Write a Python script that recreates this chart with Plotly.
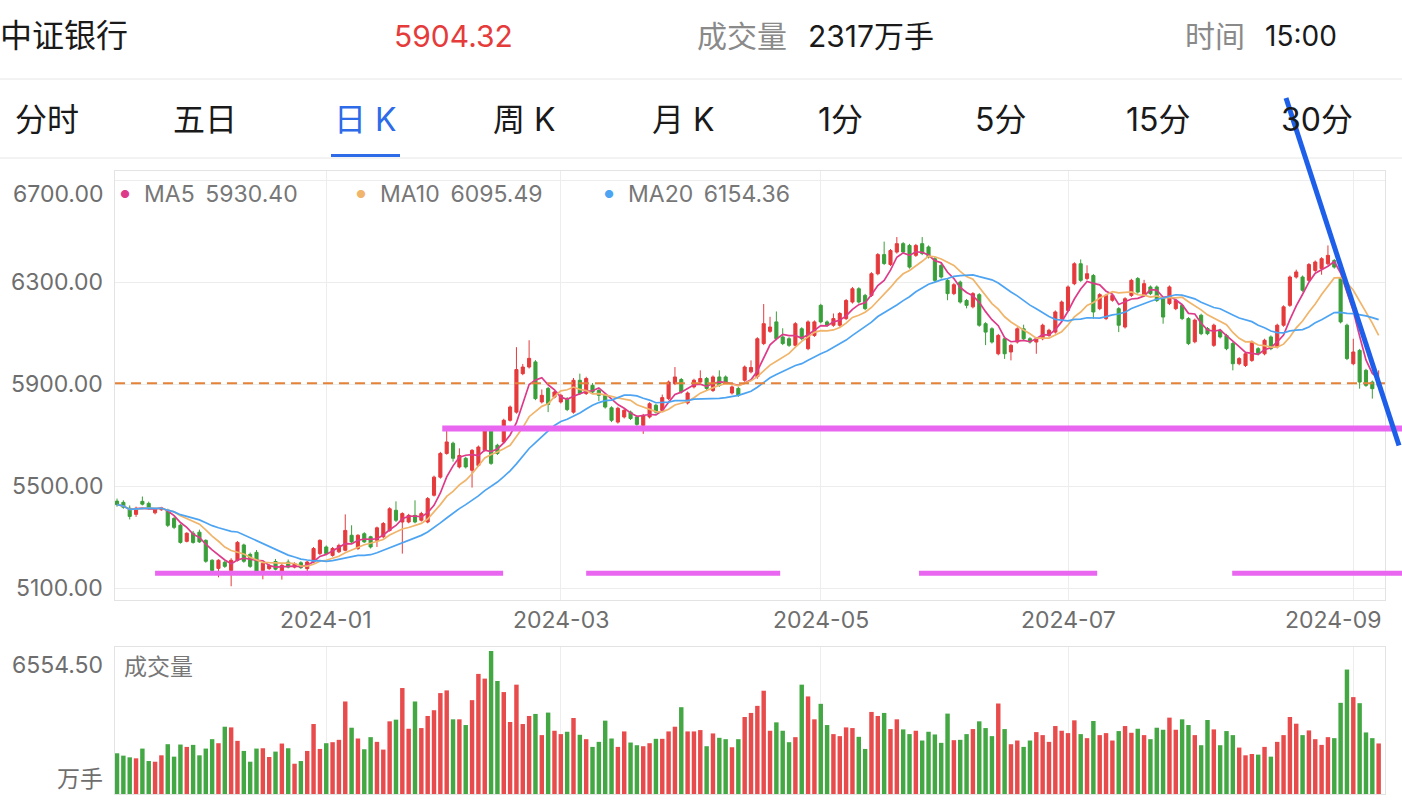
import pandas as pd
import plotly.graph_objects as go

W, H = 1402, 806

# ---------------- data ----------------
holidays = ['2024-01-01', '2024-02-09', '2024-02-12', '2024-02-13', '2024-02-14',
            '2024-02-15', '2024-02-16', '2024-04-04', '2024-04-05', '2024-05-01',
            '2024-05-02', '2024-05-03', '2024-06-10']
dates = [d.strftime('%Y-%m-%d') for d in pd.bdate_range('2023-11-15', '2024-09-06')
         if d.strftime('%Y-%m-%d') not in holidays]

open_ = [5442, 5437, 5414, 5390, 5441, 5433, 5396, 5408, 5406, 5374,
         5347, 5284, 5316, 5320, 5288, 5210, 5178, 5202, 5170, 5210,
         5270, 5233, 5241, 5170, 5177, 5205, 5164, 5203, 5183, 5200,
         5177, 5203, 5236, 5262, 5229, 5243, 5249, 5308, 5256, 5314,
         5302, 5288, 5302, 5327, 5406, 5360, 5360, 5386, 5367, 5360,
         5465, 5536, 5629, 5669, 5576, 5610, 5563, 5582, 5641, 5719,
         5661, 5674, 5759, 5791, 5942, 5968, 5988, 5831, 5884, 5850,
         5831, 5844, 5791, 5916, 5864, 5896, 5876, 5857, 5808, 5752,
         5772, 5791, 5772, 5739, 5772, 5818, 5798, 5844, 5903, 5919,
         5827, 5890, 5909, 5923, 5876, 5929, 5929, 5866, 5884, 5916,
         5949, 5930, 6060, 6108, 6145, 6086, 6079, 6053, 6118, 6040,
         6092, 6210, 6145, 6132, 6132, 6158, 6223, 6275, 6249, 6249,
         6334, 6409, 6370, 6419, 6452, 6445, 6406, 6452, 6439, 6393,
         6367, 6308, 6256, 6301, 6229, 6204, 6252, 6138, 6118, 6020,
         6079, 6027, 6066, 6118, 6079, 6066, 6079, 6092, 6105, 6158,
         6190, 6295, 6373, 6315, 6327, 6197, 6158, 6230, 6197, 6125,
         6249, 6315, 6249, 6282, 6282, 6236, 6217, 6197, 6210, 6158,
         6067, 6171, 6119, 6053, 6112, 6092, 6060, 5981, 5974, 5994,
         6040, 6020, 6086, 6047, 6132, 6210, 6321, 6321, 6308, 6347,
         6354, 6373, 6386, 6315, 6132, 5981, 6033, 5955, 5909, 5895]

high = [5452, 5445, 5425, 5420, 5460, 5440, 5415, 5418, 5412, 5380,
        5352, 5320, 5325, 5330, 5292, 5214, 5214, 5208, 5218, 5285,
        5275, 5240, 5250, 5202, 5195, 5215, 5195, 5213, 5202, 5206,
        5208, 5262, 5292, 5268, 5262, 5275, 5390, 5347, 5312, 5320,
        5306, 5342, 5360, 5418, 5441, 5398, 5392, 5445, 5400, 5458,
        5542, 5635, 5719, 5675, 5649, 5616, 5646, 5660, 5725, 5725,
        5667, 5765, 5817, 6046, 5980, 6073, 5995, 5880, 5890, 5876,
        5863, 5850, 5925, 5942, 5930, 5905, 5882, 5862, 5814, 5812,
        5804, 5797, 5778, 5784, 5830, 5824, 5860, 5915, 5968, 5925,
        5872, 5922, 5955, 5929, 5935, 5955, 5935, 5896, 5890, 5974,
        5994, 6085, 6215, 6165, 6186, 6120, 6085, 6144, 6124, 6151,
        6151, 6216, 6151, 6178, 6184, 6235, 6282, 6281, 6255, 6340,
        6415, 6460, 6431, 6478, 6458, 6451, 6451, 6478, 6445, 6399,
        6380, 6314, 6297, 6307, 6235, 6262, 6258, 6144, 6124, 6098,
        6085, 6059, 6124, 6134, 6085, 6085, 6138, 6118, 6190, 6229,
        6288, 6379, 6390, 6367, 6333, 6258, 6255, 6255, 6203, 6242,
        6314, 6321, 6310, 6288, 6288, 6242, 6288, 6235, 6216, 6164,
        6158, 6177, 6125, 6138, 6118, 6098, 6066, 6007, 6026, 6072,
        6046, 6079, 6092, 6138, 6210, 6327, 6350, 6327, 6376, 6386,
        6399, 6445, 6392, 6321, 6138, 6079, 6039, 5961, 5915, 5955]

low = [5420, 5412, 5370, 5380, 5425, 5408, 5390, 5404, 5340, 5332,
       5275, 5280, 5275, 5278, 5200, 5160, 5143, 5180, 5108, 5205,
       5200, 5180, 5160, 5135, 5172, 5170, 5134, 5178, 5178, 5176,
       5151, 5198, 5230, 5230, 5224, 5238, 5245, 5276, 5250, 5278,
       5256, 5262, 5296, 5322, 5360, 5236, 5355, 5355, 5362, 5355,
       5460, 5530, 5624, 5597, 5570, 5570, 5495, 5577, 5636, 5584,
       5623, 5668, 5754, 5785, 5936, 5962, 5838, 5825, 5791, 5845,
       5825, 5795, 5785, 5858, 5858, 5865, 5835, 5805, 5752, 5746,
       5766, 5760, 5737, 5706, 5766, 5785, 5792, 5838, 5897, 5864,
       5821, 5884, 5903, 5878, 5870, 5890, 5903, 5860, 5851, 5910,
       5943, 5922, 6054, 6102, 6073, 6054, 6047, 6047, 6073, 6034,
       6086, 6139, 6126, 6126, 6126, 6152, 6217, 6217, 6191, 6243,
       6328, 6368, 6364, 6413, 6413, 6354, 6400, 6407, 6394, 6302,
       6315, 6230, 6250, 6217, 6198, 6198, 6126, 6054, 6060, 6014,
       6000, 5994, 6060, 6073, 6060, 6020, 6073, 6086, 6099, 6152,
       6184, 6289, 6302, 6309, 6158, 6191, 6152, 6224, 6105, 6119,
       6243, 6256, 6243, 6250, 6223, 6138, 6211, 6191, 6152, 6054,
       6061, 6093, 6093, 6047, 6080, 6034, 5955, 5975, 5968, 5988,
       6014, 6014, 6034, 6041, 6126, 6204, 6315, 6263, 6302, 6341,
       6330, 6367, 6354, 6139, 5995, 5975, 5883, 5890, 5844, 5889]

close = [5428, 5418, 5382, 5414, 5430, 5414, 5410, 5414, 5347, 5339,
         5280, 5316, 5280, 5282, 5206, 5170, 5210, 5186, 5210, 5280,
         5206, 5186, 5167, 5198, 5190, 5175, 5190, 5183, 5197, 5181,
         5203, 5256, 5288, 5236, 5256, 5268, 5327, 5282, 5308, 5282,
         5262, 5337, 5354, 5412, 5367, 5393, 5386, 5360, 5393, 5452,
         5536, 5629, 5674, 5610, 5621, 5576, 5641, 5654, 5719, 5590,
         5629, 5759, 5811, 5958, 5968, 6002, 5844, 5857, 5821, 5870,
         5857, 5801, 5916, 5864, 5923, 5870, 5857, 5811, 5759, 5806,
         5798, 5766, 5743, 5778, 5824, 5791, 5848, 5909, 5929, 5870,
         5866, 5916, 5923, 5884, 5929, 5896, 5909, 5890, 5857, 5968,
         5966, 6079, 6138, 6125, 6079, 6060, 6053, 6138, 6079, 6145,
         6145, 6145, 6132, 6158, 6178, 6229, 6275, 6223, 6197, 6334,
         6409, 6374, 6425, 6452, 6419, 6360, 6445, 6413, 6400, 6308,
         6321, 6256, 6291, 6223, 6210, 6256, 6132, 6105, 6066, 6092,
         6020, 6053, 6118, 6079, 6066, 6079, 6132, 6112, 6184, 6223,
         6282, 6373, 6308, 6334, 6184, 6252, 6249, 6249, 6132, 6236,
         6308, 6262, 6295, 6256, 6229, 6164, 6282, 6229, 6158, 6060,
         6152, 6099, 6099, 6132, 6086, 6040, 5981, 6001, 6020, 6066,
         6020, 6073, 6040, 6132, 6204, 6321, 6341, 6269, 6370, 6380,
         6393, 6406, 6360, 6145, 6001, 6027, 5909, 5896, 5883, 5904.32]

volume = [1866, 1758, 1681, 1635, 2082, 1511, 1480, 1773, 2282, 1712,
          2267, 2159, 2251, 1773, 2082, 2513, 2328, 3084, 3053, 2436,
          1974, 1480, 2082, 2097, 1696, 1943, 2313, 2097, 1388, 1511,
          1974, 3207, 2066, 2328, 2375, 2483, 4241, 3038, 2544, 2051,
          2606, 2390, 2035, 3331, 3408, 4857, 2991, 4241, 3022, 3577,
          3840, 4626, 4749, 3423, 3423, 3161, 4302, 5505, 5289, 6554.5,
          5181, 4672, 3300, 5012, 3207, 3577, 3670, 2699, 3732, 2899,
          2745, 2853, 3485, 2714, 2513, 2159, 2390, 3362, 2544, 2159,
          2868, 2359, 2236, 2190, 2328, 2529, 2529, 2868, 3084, 3978,
          2868, 2868, 2930, 2190, 2776, 2575, 2513, 2143, 2513, 3531,
          3716, 4040, 4734, 2899, 3284, 2899, 2375, 2606, 5012, 4472,
          3423, 4133, 3161, 2745, 2652, 3053, 3022, 2621, 2066, 3762,
          3577, 3716, 2976, 3423, 2961, 2745, 2899, 2452, 2853, 2729,
          2344, 3685, 2467, 2483, 2745, 2976, 3331, 3022, 2652, 4148,
          2976, 2282, 2452, 2159, 2452, 2837, 2699, 2390, 3115, 2899,
          2791, 3377, 2745, 2560, 3346, 2699, 2791, 2452, 2884, 3115,
          2806, 2991, 2699, 2513, 3038, 2945, 3500, 2945, 3423, 3161,
          2699, 2236, 3392, 2961, 2236, 2884, 2699, 2128, 1773, 1835,
          1804, 2159, 1712, 2390, 2699, 3531, 3223, 2699, 2914, 2513,
          2251, 2606, 2560, 4179, 5705, 4441, 4163, 2822, 2560, 2317]

ma_periods = [5, 10, 20]
ma_names = ['MA5', 'MA10', 'MA20']
ma_legend_values = ['5930.40', '6095.49', '6154.36']

price_ticks = [5100, 5500, 5900, 6300, 6700]
price_tick_labels = ['5100.00', '5500.00', '5900.00', '6300.00', '6700.00']
month_ticks = ['2024-01-02', '2024-03-01', '2024-05-06', '2024-07-01', '2024-09-02']
month_labels = ['2024-01', '2024-03', '2024-05', '2024-07', '2024-09']

title_name = '中证银行'
last_price = '5904.32'
vol_title = '成交量'
last_volume = '2317万手'
time_title = '时间'
time_value = '15:00'
tabs = ['分时', '五日', '日 K', '周 K', '月 K', '1分', '5分', '15分', '30分']
tab_centers = [47, 205, 366, 524, 683, 840, 1000, 1158, 1317]
active_tab = 2
vol_max_label = '6554.50'
vol_unit = '万手'

# user-drawn lines (price level, start index, end index)
resistance_line = (5727, 51.3, 202.7)
support_level = 5159
support_segments = [(6.0, 60.9), (74.0, 104.6), (126.5, 154.6), (175.9, 202.7)]

# ---------------- styles ----------------
RED = '#E53A3C'
GREEN = '#3A9F3A'
VRED = '#E84B4B'
VGREEN = '#43A743'
MA_COLORS = ['#DD3B8A', '#F0B46A', '#4DA4F2']
GRID = '#EDEDED'
FRAME = '#E3E3E3'
LABEL = '#6E6E6E'
FONT = 'Inter, "Noto Sans CJK SC", sans-serif'


def px(x):
    return x / W


def py(y):
    return 1 - y / H


X_DOM = [px(115), px(1385)]
X_RANGE = [-0.32, 200.0]
Y_DOM = [py(600), py(171)]
Y_RANGE = [5054, 6737]
V_DOM = [py(794), py(647)]
V_RANGE = [0, 6738]


def idx_to_paper(i):
    p = X_DOM[0] + (i - X_RANGE[0]) / (X_RANGE[1] - X_RANGE[0]) * (X_DOM[1] - X_DOM[0])
    return min(p, 1.0)


fig = go.Figure()

fig.add_trace(go.Candlestick(
    x=dates, open=open_, high=high, low=low, close=close,
    increasing=dict(line=dict(color=RED, width=1), fillcolor=RED),
    decreasing=dict(line=dict(color=GREEN, width=1), fillcolor=GREEN),
    whiskerwidth=0, hoverinfo='skip', showlegend=False, xaxis='x', yaxis='y'))

cs = pd.Series(close)
for p, c in zip(ma_periods, MA_COLORS):
    ma = cs.rolling(p, min_periods=1).mean()
    fig.add_trace(go.Scatter(x=dates, y=ma, mode='lines', line=dict(color=c, width=1.7),
                             hoverinfo='skip', showlegend=False, xaxis='x', yaxis='y'))

vol_colors = [VRED if c >= o else VGREEN for o, c in zip(open_, close)]
fig.add_trace(go.Bar(x=dates, y=volume, marker=dict(color=vol_colors, line=dict(width=0)),
                     hoverinfo='skip', showlegend=False, xaxis='x2', yaxis='y2'))

axis_common = dict(showline=True, mirror=True, linecolor=FRAME, linewidth=1, zeroline=False)

fig.update_layout(
    width=W, height=H, autosize=False, margin=dict(l=0, r=0, t=0, b=0),
    paper_bgcolor='white', plot_bgcolor='white',
    font=dict(family=FONT),
    bargap=0.3,
    xaxis=dict(domain=X_DOM, type='category', range=X_RANGE, anchor='y',
               tickmode='array', tickvals=month_ticks, showticklabels=False,
               showgrid=True, gridcolor=GRID, ticks='',
               rangeslider=dict(visible=False), **axis_common),
    yaxis=dict(domain=Y_DOM, range=Y_RANGE, anchor='x', tickmode='array',
               tickvals=price_ticks, showticklabels=False, showgrid=True,
               gridcolor=GRID, **axis_common),
    xaxis2=dict(domain=X_DOM, type='category', range=X_RANGE, anchor='y2', matches='x',
                tickmode='array', tickvals=month_ticks, showticklabels=False,
                showgrid=True, gridcolor=GRID, ticks='', **axis_common),
    yaxis2=dict(domain=V_DOM, range=V_RANGE, anchor='x2', showgrid=False,
                showticklabels=False, **axis_common),
)

shapes = []
# header separators
shapes.append(dict(type='line', xref='paper', yref='paper', x0=0, x1=1, y0=py(79), y1=py(79),
                   line=dict(color='#E6E6E6', width=1)))
shapes.append(dict(type='line', xref='paper', yref='paper', x0=0, x1=1, y0=py(158), y1=py(158),
                   line=dict(color='#E6E6E6', width=1)))
# active tab underline
shapes.append(dict(type='line', xref='paper', yref='paper', x0=px(331), x1=px(400),
                   y0=py(155.5), y1=py(155.5), line=dict(color='#2D6BE8', width=3)))
# last price dashed line
shapes.append(dict(type='line', xref='x domain', yref='y', x0=0, x1=1,
                   y0=close[-1], y1=close[-1],
                   line=dict(color='#E5823A', width=1.8, dash='10px,6px'), layer='above'))
# user drawn magenta lines
lvl, s, e = resistance_line
shapes.append(dict(type='line', xref='paper', yref='y', x0=idx_to_paper(s), x1=idx_to_paper(e),
                   y0=lvl, y1=lvl, line=dict(color='#E866F0', width=6), layer='above'))
for s, e in support_segments:
    shapes.append(dict(type='line', xref='paper', yref='y', x0=idx_to_paper(s), x1=idx_to_paper(e),
                       y0=support_level, y1=support_level, line=dict(color='#E866F0', width=5),
                       layer='above'))
# user drawn blue trend line (kept inside the page)
shapes.append(dict(type='line', xref='paper', yref='paper', x0=px(1286), y0=py(98),
                   x1=px(1399), y1=py(445.5), line=dict(color='#1E5FEA', width=5), layer='above'))

annotations = []


def text(x, y, t, size, color, anchor='left', yref='paper', xref='paper', **kw):
    annotations.append(dict(x=x, y=y, xref=xref, yref=yref, text=t, showarrow=False,
                            xanchor=anchor, yanchor='middle',
                            font=dict(size=size, color=color, family=FONT), **kw))


# header
text(px(0), py(36), title_name, 32, '#1A1A1A', xshift=-2)
text(px(453), py(36), last_price, 30, '#E53B3B', anchor='center')
text(px(695), py(36), vol_title, 30, '#8A8A8A')
text(px(806), py(36), last_volume, 30, '#1A1A1A')
text(px(1183), py(36), time_title, 30, '#8A8A8A')
text(px(1263), py(36), time_value, 28, '#1A1A1A')

# tabs
for i, (t, cx) in enumerate(zip(tabs, tab_centers)):
    text(px(cx), py(120), t, 32, '#2D6BE8' if i == active_tab else '#1A1A1A', anchor='center')

# price axis labels (top one kept inside the frame)
for v, lab in zip(price_ticks, price_tick_labels):
    shift = -14 if v == max(price_ticks) else 0
    text(px(105), v, lab, 23, LABEL, anchor='right', yref='y', yshift=shift)

# date axis labels (last one kept inside the frame)
for i, (d, lab) in enumerate(zip(month_ticks, month_labels)):
    if i == len(month_ticks) - 1:
        text(X_DOM[1], py(620), lab, 23, LABEL, anchor='right', xshift=-2)
    else:
        text(d, py(620), lab, 23, LABEL, anchor='center', xref='x')

# MA legend
legend_dots = [125, 361, 609]
for name, val, c, dx in zip(ma_names, ma_legend_values, MA_COLORS, legend_dots):
    text(px(dx), py(194), '●', 11, c, anchor='center')
    text(px(dx + 17), py(194), name + '\u00a0\u2009' + val, 23, '#777777')

# volume panel labels
text(px(105), py(665), vol_max_label, 23, LABEL, anchor='right')
text(px(105), py(779), vol_unit, 23, LABEL, anchor='right')
text(px(122), py(667), vol_title, 23, '#777777')

fig.update_layout(shapes=shapes, annotations=annotations)

fig.write_html("out.html", config={'displayModeBar': False, 'responsive': False})
